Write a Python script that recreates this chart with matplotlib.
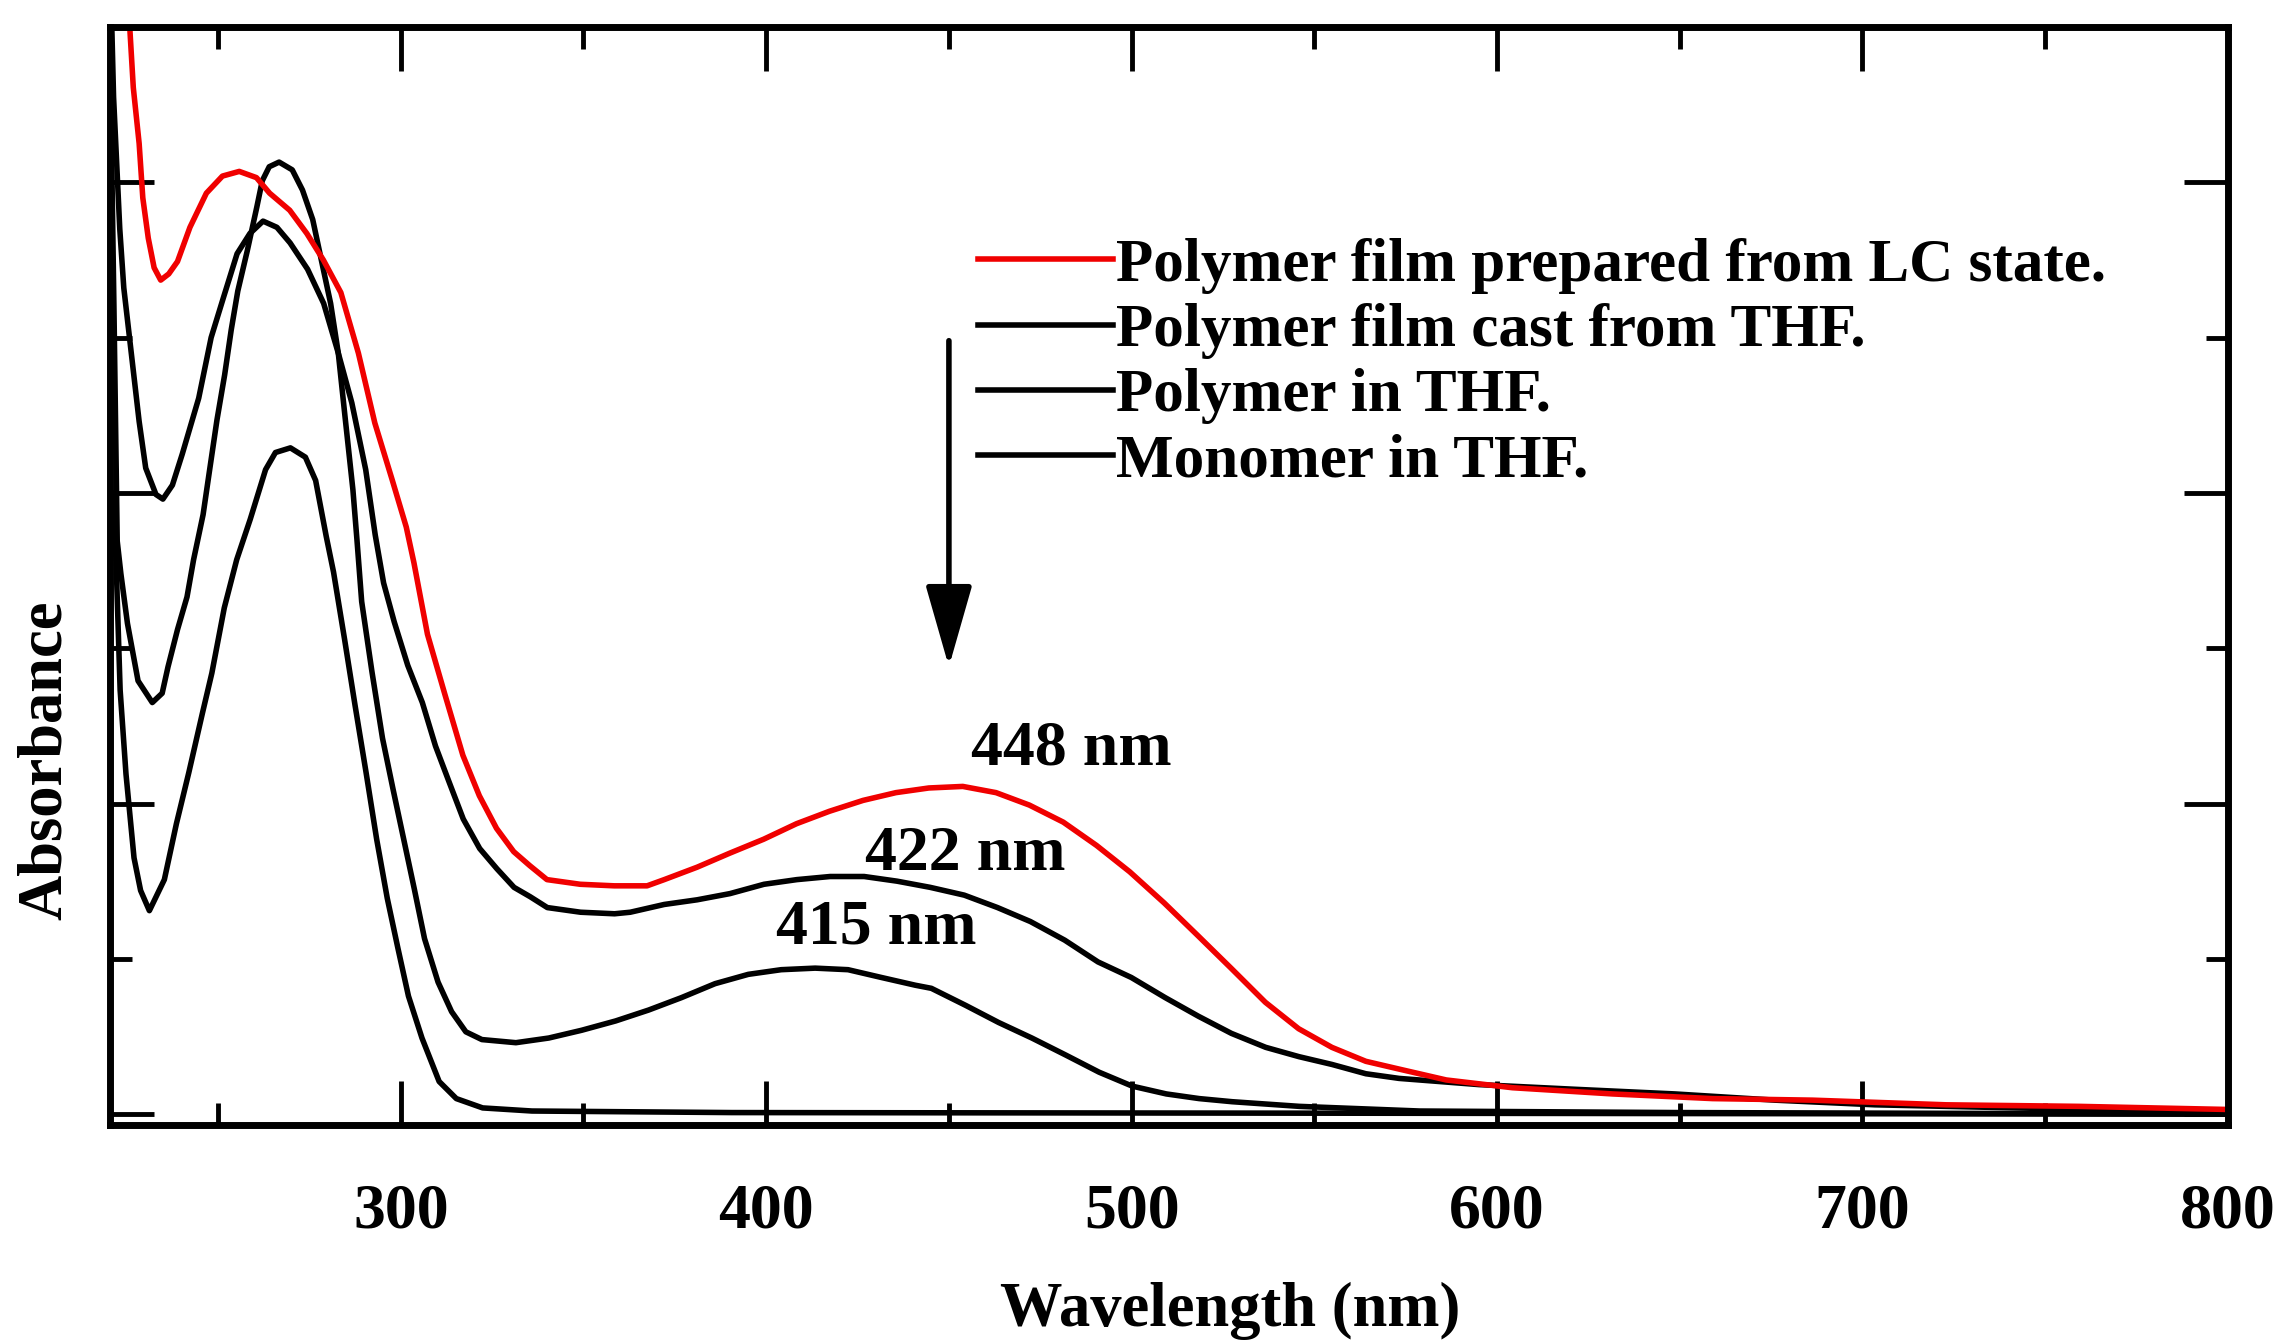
import matplotlib
matplotlib.use("Agg")
import matplotlib.pyplot as plt
from matplotlib.ticker import MultipleLocator

plt.rcParams['font.family'] = ['Liberation Serif', 'DejaVu Serif']
plt.rcParams['font.weight'] = 'bold'

# ---------------- data ----------------
wl_lc = [224.5, 225.9, 226.8, 228.4, 229.4, 230.9, 232.5, 234.3, 236.5, 238.9, 242.3,
         246.8, 251.2, 255.8, 260.5, 264.1, 269.6, 274.3, 278.8, 283.6, 288.4, 292.9,
         297.7, 301.5, 303.6, 307.3, 312.1, 317.0, 321.5, 326.2, 330.9, 335.3, 340.0,
         349.1, 358.4, 367.4, 372.1, 381.1, 390.0, 399.3, 408.3, 417.3, 426.5, 435.5,
         444.5, 453.8, 462.9, 472.0, 481.3, 490.4, 499.5, 508.9, 518.1, 527.2, 536.6,
         545.7, 554.8, 564.1, 573.2, 586.1, 604.2, 631.6, 659.0, 686.3, 722.9, 759.3, 800.0]
abs_lc = [7.80, 6.97, 6.61, 6.25, 5.90, 5.64, 5.45, 5.37, 5.41, 5.49, 5.71,
          5.93, 6.04, 6.07, 6.03, 5.93, 5.82, 5.67, 5.50, 5.29, 4.90, 4.45,
          4.08, 3.78, 3.55, 3.09, 2.70, 2.31, 2.05, 1.84, 1.69, 1.60, 1.51,
          1.48, 1.47, 1.47, 1.51, 1.59, 1.68, 1.77, 1.87, 1.95, 2.02, 2.07,
          2.10, 2.11, 2.07, 1.99, 1.88, 1.73, 1.56, 1.36, 1.15, 0.94, 0.72,
          0.55, 0.43, 0.34, 0.29, 0.22, 0.17, 0.13, 0.10, 0.09, 0.06, 0.05, 0.03]

wl_cast = [220.6, 221.4, 223.1, 224.2, 226.3, 228.4, 230.2, 233.0, 234.9, 237.5, 240.2,
           244.7, 248.1, 251.5, 255.2, 258.7, 262.3, 266.1, 269.7, 274.5, 278.9, 282.9,
           286.6, 290.4, 293.0, 295.3, 298.2, 301.9, 305.9, 309.5, 313.2, 317.1, 321.6,
           326.3, 331.0, 335.4, 340.1, 349.2, 358.5, 362.8, 372.1, 381.1, 390.1, 399.4,
           408.4, 417.5, 426.8, 435.8, 444.9, 454.2, 463.3, 472.3, 481.7, 490.8, 499.9,
           509.2, 518.3, 527.3, 536.7, 545.8, 554.8, 564.1, 573.2, 595.1, 621.3, 648.7,
           676.0, 703.4, 800.0]
abs_cast = [7.30, 6.55, 5.70, 5.32, 4.89, 4.46, 4.16, 3.99, 3.96, 4.05, 4.25,
            4.61, 5.00, 5.26, 5.54, 5.67, 5.75, 5.71, 5.61, 5.44, 5.22, 4.90,
            4.58, 4.15, 3.73, 3.42, 3.17, 2.89, 2.65, 2.37, 2.14, 1.90, 1.71,
            1.58, 1.46, 1.40, 1.33, 1.30, 1.29, 1.30, 1.35, 1.38, 1.42, 1.48,
            1.51, 1.53, 1.53, 1.50, 1.46, 1.41, 1.33, 1.24, 1.12, 0.98, 0.88,
            0.75, 0.63, 0.52, 0.43, 0.37, 0.32, 0.26, 0.23, 0.19, 0.16, 0.13,
            0.09, 0.06, 0.01]

wl_poly = [220.6, 221.5, 222.4, 223.4, 225.2, 228.1, 232.0, 234.7, 236.3, 238.9, 241.5,
           243.3, 245.9, 247.7, 249.7, 251.8, 253.6, 255.4, 258.0, 260.6, 262.1, 264.0,
           266.7, 270.3, 273.1, 275.9, 278.8, 280.8, 282.9, 284.7, 286.9, 288.0, 289.3,
           292.1, 295.0, 297.9, 300.8, 303.7, 306.5, 310.2, 313.9, 317.8, 322.2, 331.5,
           340.5, 349.5, 358.8, 367.8, 376.8, 386.0, 395.1, 404.1, 413.4, 422.4, 431.5,
           440.8, 445.2, 454.6, 463.6, 472.7, 482.0, 491.1, 500.2, 509.5, 518.5, 527.5,
           545.9, 578.8, 650.0, 800.0]
abs_poly = [6.60, 5.20, 3.69, 3.48, 3.16, 2.79, 2.65, 2.71, 2.88, 3.12, 3.33,
            3.57, 3.86, 4.15, 4.47, 4.76, 5.05, 5.30, 5.56, 5.84, 6.01, 6.10,
            6.13, 6.08, 5.95, 5.76, 5.44, 5.22, 4.90, 4.50, 4.02, 3.70, 3.30,
            2.85, 2.42, 2.09, 1.77, 1.45, 1.13, 0.85, 0.66, 0.53, 0.48, 0.46,
            0.49, 0.54, 0.60, 0.67, 0.75, 0.84, 0.90, 0.93, 0.94, 0.93, 0.88,
            0.83, 0.81, 0.70, 0.59, 0.49, 0.38, 0.27, 0.18, 0.13, 0.10, 0.08,
            0.05, 0.02, 0.01, 0.00]

wl_mono = [221.5, 222.3, 223.2, 224.8, 227.0, 228.8, 231.2, 235.3, 238.6, 242.0, 245.7,
           248.3, 251.7, 255.1, 258.8, 263.0, 265.7, 269.8, 273.9, 276.7, 279.6, 281.6,
           284.6, 287.5, 290.5, 293.4, 296.3, 299.2, 302.1, 305.8, 310.5, 315.2, 322.4,
           335.9, 390.6, 800.0]
abs_mono = [4.00, 3.40, 2.73, 2.19, 1.65, 1.44, 1.31, 1.51, 1.87, 2.20, 2.58,
            2.84, 3.26, 3.57, 3.83, 4.15, 4.26, 4.29, 4.23, 4.08, 3.72, 3.49,
            3.06, 2.63, 2.20, 1.77, 1.39, 1.07, 0.76, 0.49, 0.21, 0.10, 0.04,
            0.02, 0.01, 0.00]

series_labels = ["Polymer film prepared from LC state.", "Polymer film cast from THF.",
                 "Polymer in THF.", "Monomer in THF."]
peak_labels = ["448 nm", "422 nm", "415 nm"]
peak_label_x = [483.6, 454.6, 430.2]
peak_label_y = [2.25, 1.57, 1.10]
arrow_x = 450.0
arrow_top, arrow_tip = 4.98, 2.88

# ---------------- figure ----------------
fig = plt.figure(figsize=(22.85, 13.42), dpi=100)
ax = fig.add_axes([0.0481, 0.1617, 0.9269, 0.8182])

lw = 4.0
l_mono, = ax.plot(wl_mono, abs_mono, color='black', lw=lw, solid_joinstyle='round')
l_poly, = ax.plot(wl_poly, abs_poly, color='black', lw=lw, solid_joinstyle='round')
l_cast, = ax.plot(wl_cast, abs_cast, color='black', lw=lw, solid_joinstyle='round')
l_lc, = ax.plot(wl_lc, abs_lc, color='#f00000', lw=lw, solid_joinstyle='round')

ax.set_xlim(220.4, 800)
ax.set_ylim(-0.07, 7.0)

ax.xaxis.set_major_locator(MultipleLocator(100))
ax.xaxis.set_minor_locator(MultipleLocator(50))
ax.yaxis.set_major_locator(MultipleLocator(2))
ax.yaxis.set_minor_locator(MultipleLocator(1))
ax.tick_params(which='both', direction='in', top=True, right=True, width=3.5)
ax.tick_params(which='major', length=32)
ax.tick_params(which='minor', length=16)
ax.tick_params(axis='x', labelsize=46, pad=42)
ax.tick_params(axis='y', labelleft=False)
for sp in ax.spines.values():
    sp.set_linewidth(5)

ax.set_xlabel('Wavelength (nm)', fontsize=45, fontweight='bold')
ax.xaxis.set_label_coords(0.529, -0.143)
ax.set_ylabel('Absorbance', fontsize=45, fontweight='bold')
ax.yaxis.set_label_coords(-0.0165, 0.332)

ax.legend([l_lc, l_cast, l_poly, l_mono], series_labels, loc='upper left',
          bbox_to_anchor=(0.410, 0.808), frameon=False, fontsize=44,
          handlelength=2.2, handletextpad=0.05, labelspacing=0.15,
          borderpad=0, borderaxespad=0)

for txt, x, y in zip(peak_labels, peak_label_x, peak_label_y):
    ax.text(x, y, txt, fontsize=46, fontweight='bold', ha='center', va='baseline')

ax.annotate('', xy=(arrow_x, arrow_tip), xytext=(arrow_x, arrow_top),
            arrowprops=dict(arrowstyle='-|>,head_length=0.7,head_width=0.2',
                            mutation_scale=72, lw=4, color='black',
                            shrinkA=0, shrinkB=0))

fig.savefig('out.png', dpi=100)
